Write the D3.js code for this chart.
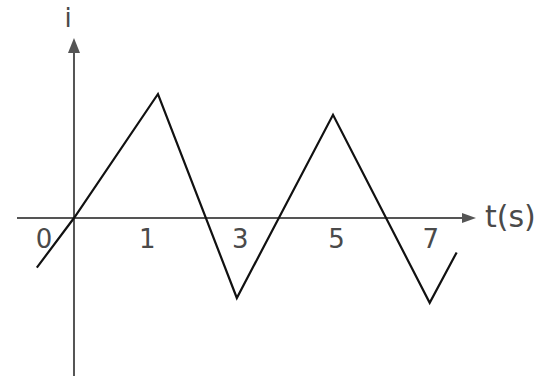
<!DOCTYPE html>
<html>
<head>
<meta charset="utf-8">
<script src="https://cdn.jsdelivr.net/npm/d3@7"></script>
<style>
  html, body { margin: 0; padding: 0; background: #fff; }
  svg { display: block; }
  text { font-family: "DejaVu Sans", Verdana, sans-serif; fill: #4a4a4a; }
</style>
</head>
<body>
<svg id="chart" width="539" height="376"></svg>
<script>
// ---- data ----
const waveT = [-0.73, 0, 1.65, 3.20, 5.09, 6.99, 7.52];   // time (s)
const waveI = [-0.62, 0, 1.55, -1.00, 1.29, -1.06, -0.43]; // current (a.u.)
const tickPos = [-0.6, 1.43, 3.26, 5.15, 7.0];             // where the labels sit (t units)
const tickLabels = ["0", "1", "3", "5", "7"];
const xLabel = "t(s)";
const yLabel = "i";

const svg = d3.select("#chart");

const x = d3.scaleLinear().domain([-1.12, 7.9]).range([17, 476]);
const y = d3.scaleLinear().domain([-2.0, 2.25]).range([378, 38]);

const axisColor = "#555";

// x axis line
svg.append("line")
  .attr("x1", x(-1.12)).attr("x2", x(7.9) - 8)
  .attr("y1", y(0)).attr("y2", y(0))
  .attr("stroke", axisColor).attr("stroke-width", 2);
// x arrow
svg.append("path")
  .attr("d", `M${x(7.9)},${y(0)} L${x(7.9) - 14},${y(0) - 5} L${x(7.9) - 14},${y(0) + 5} Z`)
  .attr("fill", axisColor);

// y axis line
svg.append("line")
  .attr("x1", x(0)).attr("x2", x(0))
  .attr("y1", y(-2.0)).attr("y2", y(2.25) + 8)
  .attr("stroke", axisColor).attr("stroke-width", 2);
// y arrow
svg.append("path")
  .attr("d", `M${x(0)},${y(2.25)} L${x(0) - 6},${y(2.25) + 15} L${x(0) + 6},${y(2.25) + 15} Z`)
  .attr("fill", axisColor);

// tick labels through d3 axis
const xAxis = d3.axisBottom(x)
  .tickValues(tickPos)
  .tickSize(0)
  .tickPadding(12)
  .tickFormat((d, i) => tickLabels[i]);
const gx = svg.append("g")
  .attr("transform", `translate(0,${y(0)})`)
  .call(xAxis);
gx.select(".domain").remove();
gx.selectAll("text")
  .style("font-size", "26px")
  .style("font-family", '"DejaVu Sans", Verdana, sans-serif')
  .attr("fill", "#505050");

// axis titles
svg.append("text")
  .attr("x", x(7.9) + 9).attr("y", y(0) + 9)
  .style("font-size", "30px")
  .text(xLabel);
svg.append("text")
  .attr("x", x(0) - 6).attr("y", 27)
  .attr("text-anchor", "middle")
  .style("font-size", "26px")
  .text(yLabel);

// waveform
const pts = waveT.map((t, i) => [t, waveI[i]]);
const line = d3.line().x(d => x(d[0])).y(d => y(d[1]));
svg.append("path")
  .datum(pts)
  .attr("d", line)
  .attr("fill", "none")
  .attr("stroke", "#111")
  .attr("stroke-width", 2.2)
  .attr("stroke-linejoin", "miter");
</script>
</body>
</html>
